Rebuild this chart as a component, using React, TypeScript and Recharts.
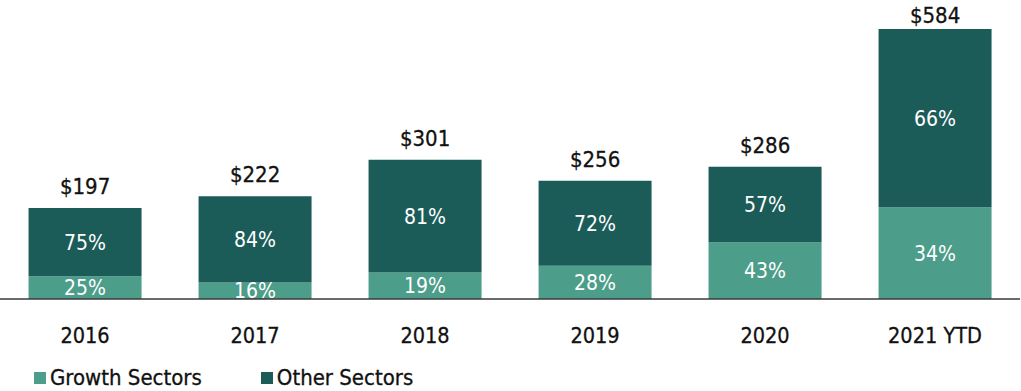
import { Bar, BarChart, LabelList, Legend, XAxis, YAxis } from "recharts";

const categories = ["2016", "2017", "2018", "2019", "2020", "2021 YTD"];
const totals = [197, 222, 301, 256, 286, 584];
const growthPct = [25, 16, 19, 28, 43, 34];
const otherPct = [75, 84, 81, 72, 57, 66];

const GROWTH = "#4c9d89";
const OTHER = "#1b5c59";
const INK = "#111111";
const FONT = "'DejaVu Sans Condensed', 'DejaVu Sans', sans-serif";

const data = categories.map((name, i) => ({
  name,
  total: totals[i],
  growthPct: growthPct[i],
  otherPct: otherPct[i],
  growth: (totals[i] * growthPct[i]) / 100,
  other: (totals[i] * otherPct[i]) / 100,
}));

const legendItems = [
  { label: "Growth Sectors", color: GROWTH },
  { label: "Other Sectors", color: OTHER },
];

const renderLegend = () => (
  <div
    style={{
      display: "flex",
      gap: 59,
      paddingLeft: 34,
      marginTop: 16,
      fontFamily: FONT,
      fontSize: 22,
      lineHeight: "22px",
      color: INK,
      height: 22,
      alignItems: "center",
      WebkitTextStroke: "0.3px #111",
    }}
  >
    {legendItems.map((it) => (
      <div key={it.label} style={{ display: "flex", alignItems: "center" }}>
        <span
          style={{
            width: 12,
            height: 12,
            background: it.color,
            display: "inline-block",
            marginRight: 4,
          }}
        />
        {it.label}
      </div>
    ))}
  </div>
);

// total above each stack; kept inside the top edge for the tallest bar
const TotalLabel = (props: any) => {
  const { x, y, width, value } = props;
  return (
    <text
      x={Number(x) + Number(width) / 2}
      y={Math.max(Number(y) - 14, 23)}
      textAnchor="middle"
      fill={INK}
      stroke={INK}
      strokeWidth={0.3}
      fontSize={22}
      fontFamily={FONT}
    >
      {`$${value}`}
    </text>
  );
};

export default function App() {
  return (
    <div style={{ position: "absolute", left: 0, top: 0, background: "#fff" }}>
      <BarChart
        width={1021}
        height={391}
        data={data}
        margin={{ top: 29, right: 1, left: 0, bottom: 0 }}
        barCategoryGap="16.8%"
      >
        <XAxis
          dataKey="name"
          height={52}
          tickLine={false}
          axisLine={{ stroke: "#3a3a3a", strokeWidth: 1.5 }}
          tick={{ fill: INK, stroke: INK, strokeWidth: 0.3, fontSize: 21.5, fontFamily: FONT }}
          tickMargin={23}
        />
        <YAxis hide domain={[0, 584]} />
        <Legend verticalAlign="bottom" align="left" height={40} content={renderLegend} />
        <Bar dataKey="growth" stackId="a" fill={GROWTH} isAnimationActive={false}>
          <LabelList
            dataKey="growthPct"
            position="center"
            formatter={(v: number) => `${v}%`}
            style={{ fill: "#fff", fontSize: 21, fontFamily: FONT }}
          />
        </Bar>
        <Bar dataKey="other" stackId="a" fill={OTHER} isAnimationActive={false}>
          <LabelList
            dataKey="otherPct"
            position="center"
            formatter={(v: number) => `${v}%`}
            style={{ fill: "#fff", fontSize: 21, fontFamily: FONT }}
          />
          <LabelList dataKey="total" content={TotalLabel} />
        </Bar>
      </BarChart>
    </div>
  );
}
